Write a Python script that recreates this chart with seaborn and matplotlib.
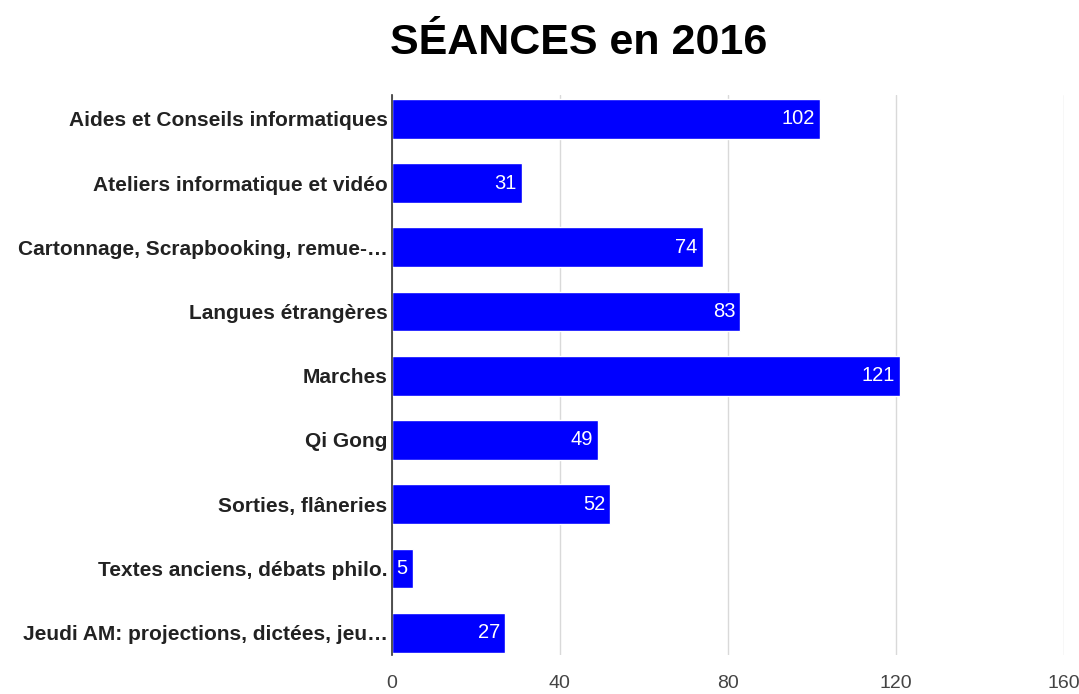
import matplotlib
matplotlib.use("Agg")
import matplotlib.pyplot as plt
import seaborn as sns
import pandas as pd

categories = [
    "Aides et Conseils informatiques",
    "Ateliers informatique et vidéo",
    "Cartonnage, Scrapbooking, remue-…",
    "Langues étrangères",
    "Marches",
    "Qi Gong",
    "Sorties, flâneries",
    "Textes anciens, débats philo.",
    "Jeudi AM: projections, dictées, jeu…",
]
seances = [102, 31, 74, 83, 121, 49, 52, 5, 27]
x_ticks = [0, 40, 80, 120, 160]

df = pd.DataFrame({"activite": categories, "seances": seances})

sns.set_theme(style="white")
plt.rcParams["font.family"] = ["Liberation Sans", "DejaVu Sans"]

fig = plt.figure(figsize=(10.79, 6.94), dpi=100)
ax = fig.add_axes([0.363, 0.056, 0.623, 0.807])

sns.barplot(data=df, x="seances", y="activite", orient="h",
            color="#0000ff", saturation=1, width=0.62, ax=ax)

# value labels inside the bar ends
for i, v in enumerate(seances):
    ax.text(v - 1.2, i, str(v), color="white", ha="right", va="center",
            fontsize=14.5)

ax.set_xlim(0, 160)
ax.set_ylim(8.35, -0.37)
ax.set_xticks(x_ticks)
ax.set_xticklabels([str(t) for t in x_ticks], color="#444444", fontsize=14)
ax.tick_params(axis="x", length=0, pad=14)
ax.tick_params(axis="y", length=0, pad=3)
for lab in ax.get_yticklabels():
    lab.set_fontweight("bold")
    lab.set_fontsize(15)
    lab.set_color("#222222")
ax.grid(axis="x", color="#d9d9d9", linewidth=1)
ax.set_axisbelow(True)
ax.set_xlabel("")
ax.set_ylabel("")
for s in ["top", "right", "bottom"]:
    ax.spines[s].set_visible(False)
ax.spines["left"].set_color("#333333")
ax.spines["left"].set_linewidth(1.2)

fig.text(0.536, 0.938, "SÉANCES en 2016", ha="center", va="center",
         fontsize=31, fontweight="bold", color="#000000")

fig.savefig("out.png", dpi=100, facecolor="white")
